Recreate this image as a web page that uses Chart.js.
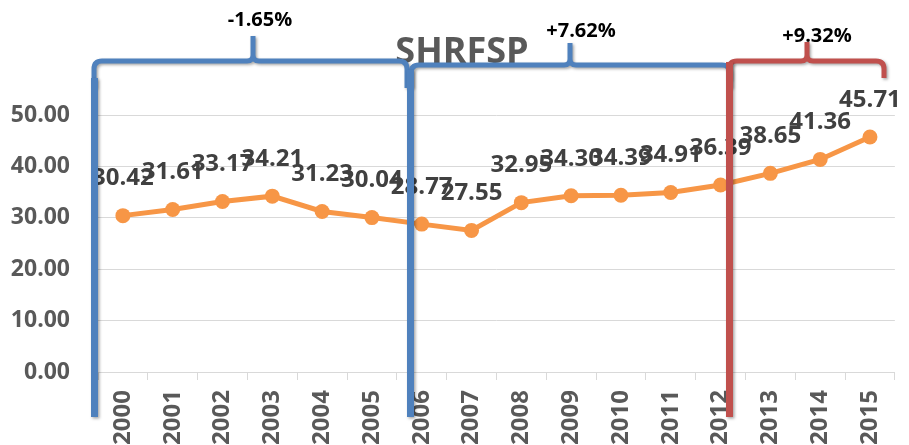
<!DOCTYPE html>
<html>
<head>
<meta charset="utf-8">
<script src="https://cdn.jsdelivr.net/npm/chart.js@4"></script>
<style>
  html, body { margin: 0; padding: 0; background: #ffffff; }
  #c { display: block; }
</style>
</head>
<body>
<canvas id="c" width="909" height="445"></canvas>
<script>
// ---- data ----
const years = ["2000","2001","2002","2003","2004","2005","2006","2007","2008","2009","2010","2011","2012","2013","2014","2015"];
const shrfsp = [30.42, 31.61, 33.17, 34.21, 31.23, 30.04, 28.77, 27.55, 32.95, 34.30, 34.39, 34.91, 36.39, 38.65, 41.36, 45.71];
const yTicks = [0, 10, 20, 30, 40, 50];
const chartTitle = "SHRFSP";
const periodLabels = ["-1.65%", "+7.62%", "+9.32%"];

const FONT = "'Open Sans', 'DejaVu Sans', sans-serif";

const overlayPlugin = {
  id: 'overlay',
  afterDatasetsDraw(chart) {
    const ctx = chart.ctx;
    const meta = chart.getDatasetMeta(0);
    ctx.save();
    ctx.font = "bold 24px " + FONT;
    ctx.fillStyle = "#404040";
    ctx.textAlign = "center";
    ctx.textBaseline = "middle";
    meta.data.forEach((pt, i) => {
      ctx.fillText(shrfsp[i].toFixed(2), pt.x, pt.y - 37);
    });
    ctx.restore();
  },
  afterDraw(chart) {
    const ctx = chart.ctx;
    ctx.save();
    // title
    ctx.font = "bold 36px " + FONT;
    ctx.fillStyle = "#595959";
    ctx.textAlign = "center";
    ctx.textBaseline = "alphabetic";
    ctx.fillText(chartTitle, 462, 63);

    const blue = "#4F81BD", red = "#C0504D";
    function withShadow(fn) {
      ctx.save();
      ctx.shadowColor = "rgba(0,0,0,0.35)";
      ctx.shadowBlur = 3;
      ctx.shadowOffsetX = 1.5;
      ctx.shadowOffsetY = 1.5;
      fn();
      ctx.restore();
    }
    function vline(x, y0, y1, color) {
      withShadow(() => {
        ctx.strokeStyle = color;
        ctx.lineWidth = 7;
        ctx.lineCap = "butt";
        ctx.beginPath();
        ctx.moveTo(x, y0);
        ctx.lineTo(x, y1);
        ctx.stroke();
      });
    }
    function brace(xl, xr, y, px, py, dropL, dropR, color) {
      const r = 8, r2 = 6;
      withShadow(() => {
        ctx.strokeStyle = color;
        ctx.lineWidth = 5;
        ctx.lineJoin = "round";
        ctx.lineCap = "butt";
        ctx.beginPath();
        ctx.moveTo(xl, dropL);
        ctx.lineTo(xl, y + r);
        ctx.quadraticCurveTo(xl, y, xl + r, y);
        ctx.lineTo(px - r2, y);
        ctx.quadraticCurveTo(px, y, px, y - r2);
        ctx.lineTo(px, py);
        ctx.moveTo(px, y - r2);
        ctx.quadraticCurveTo(px, y, px + r2, y);
        ctx.lineTo(xr - r, y);
        ctx.quadraticCurveTo(xr, y, xr, y + r);
        ctx.lineTo(xr, dropR);
        ctx.stroke();
      });
    }
    // braces
    brace(94, 407, 61, 253, 36, 88, 88, blue);
    brace(411, 730, 65, 570, 43, 88, 88, blue);
    brace(729, 884, 61, 807, 42, 80, 78, red);
    // vertical lines
    vline(94.5, 78, 417, blue);
    vline(410.5, 70, 417, blue);
    vline(729.5, 62, 417, red);

    // percentage labels
    ctx.font = "bold 20px " + FONT;
    ctx.fillStyle = "#000000";
    ctx.textAlign = "center";
    ctx.textBaseline = "middle";
    ctx.fillText(periodLabels[0], 260, 20);
    ctx.fillText(periodLabels[1], 581, 31);
    ctx.fillText(periodLabels[2], 817, 36);
    ctx.restore();
  }
};

new Chart(document.getElementById('c'), {
  type: 'line',
  data: {
    labels: years,
    datasets: [{
      label: chartTitle,
      data: shrfsp,
      borderColor: "#F79646",
      backgroundColor: "#F79646",
      borderWidth: 5,
      pointRadius: 7.5,
      pointHoverRadius: 7.5,
      pointBackgroundColor: "#F79646",
      pointBorderWidth: 0,
      tension: 0,
      clip: false
    }]
  },
  options: {
    responsive: false,
    animation: false,
    devicePixelRatio: 1,
    layout: { padding: { top: 115, right: 5, left: 0, bottom: 0 } },
    plugins: {
      legend: { display: false },
      title: { display: false },
      tooltip: { enabled: false }
    },
    scales: {
      x: {
        type: 'category',
        offset: true,
        grid: {
          offset: true,
          drawOnChartArea: false,
          drawTicks: true,
          tickLength: 8,
          color: "#d9d9d9",
          lineWidth: 1
        },
        border: { display: true, color: "#d9d9d9", width: 1 },
        ticks: {
          autoSkip: false,
          minRotation: 90,
          maxRotation: 90,
          padding: 10,
          color: "#595959",
          font: { family: FONT, size: 24, weight: 'bold' }
        },
        afterFit(scale) { scale.height = 73; }
      },
      y: {
        min: 0,
        max: 50,
        afterBuildTicks(scale) { scale.ticks = yTicks.map(v => ({ value: v })); },
        grid: { color: "#d9d9d9", lineWidth: 1, drawTicks: false },
        border: { display: false },
        ticks: {
          padding: 28,
          color: "#595959",
          font: { family: FONT, size: 23, weight: 'bold' },
          callback: (v) => Number(v).toFixed(2)
        },
        afterFit(scale) { scale.width = 98; }
      }
    }
  },
  plugins: [overlayPlugin]
});
</script>
</body>
</html>
